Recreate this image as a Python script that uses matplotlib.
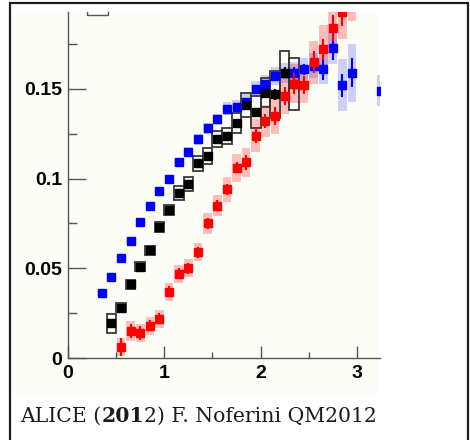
import matplotlib
matplotlib.use("Agg")
import matplotlib.pyplot as plt
from matplotlib.patches import Rectangle

# blue series
pt_blue = [0.35, 0.45, 0.55, 0.65, 0.75, 0.85, 0.95, 1.05, 1.15, 1.25, 1.35, 1.45, 1.55, 1.65,
           1.75, 1.85, 1.95, 2.05, 2.15, 2.25, 2.35, 2.45, 2.55, 2.65, 2.75, 2.85, 2.95, 3.25]
v_blue = [0.036, 0.045, 0.056, 0.065, 0.076, 0.085, 0.093, 0.100, 0.109, 0.115, 0.122, 0.128, 0.133, 0.139,
          0.140, 0.143, 0.150, 0.153, 0.157, 0.159, 0.159, 0.161, 0.163, 0.161, 0.173, 0.152, 0.159, 0.149]
stat_blue = [0.0005, 0.0005, 0.0005, 0.0005, 0.0005, 0.0005, 0.0005, 0.0005, 0.0005, 0.0008, 0.0008, 0.001, 0.001, 0.001,
             0.0012, 0.0015, 0.0015, 0.002, 0.002, 0.0025, 0.003, 0.003, 0.004, 0.006, 0.007, 0.0065, 0.008, 0.006]
sys_blue = [0.0015, 0.0015, 0.0015, 0.0015, 0.002, 0.002, 0.002, 0.002, 0.0025, 0.0025, 0.003, 0.003, 0.003, 0.0035,
            0.004, 0.004, 0.0045, 0.005, 0.005, 0.0055, 0.006, 0.006, 0.007, 0.008, 0.009, 0.0145, 0.016, 0.0085]

# black series
pt_black = [0.45, 0.55, 0.65, 0.75, 0.85, 0.95, 1.05, 1.15, 1.25, 1.35, 1.45, 1.55, 1.65, 1.75,
            1.85, 1.95, 2.05, 2.15, 2.25, 2.35]
v_black = [0.0195, 0.028, 0.041, 0.051, 0.060, 0.073, 0.0825, 0.092, 0.097, 0.1085, 0.1125, 0.122, 0.124, 0.131,
           0.141, 0.137, 0.148, 0.147, 0.159, 0.153]
stat_black = [0.001, 0.001, 0.001, 0.001, 0.001, 0.001, 0.001, 0.001, 0.001, 0.001, 0.001, 0.001, 0.0012, 0.0015,
              0.0015, 0.002, 0.002, 0.003, 0.003, 0.003]
sys_black = [0.0053, 0.0025, 0.0025, 0.0025, 0.0025, 0.003, 0.003, 0.004, 0.004, 0.004, 0.0045, 0.0045, 0.0045, 0.0056,
             0.0067, 0.009, 0.008, 0.013, 0.012, 0.0145]

# red series
pt_red = [0.55, 0.65, 0.75, 0.85, 0.95, 1.05, 1.15, 1.25, 1.35, 1.45, 1.55, 1.65, 1.75, 1.85,
          1.95, 2.05, 2.15, 2.25, 2.35, 2.45, 2.55, 2.65, 2.75, 2.85, 2.95]
v_red = [0.006, 0.015, 0.014, 0.018, 0.022, 0.037, 0.047, 0.050, 0.059, 0.075, 0.085, 0.094, 0.106, 0.109,
         0.124, 0.132, 0.135, 0.146, 0.153, 0.152, 0.165, 0.172, 0.184, 0.193, 0.203]
stat_red = [0.005, 0.004, 0.004, 0.003, 0.003, 0.003, 0.003, 0.003, 0.003, 0.003, 0.003, 0.003, 0.003, 0.004,
            0.004, 0.004, 0.005, 0.005, 0.006, 0.005, 0.006, 0.006, 0.007, 0.008, 0.008]
sys_red = [0.005, 0.0055, 0.005, 0.005, 0.005, 0.005, 0.005, 0.005, 0.005, 0.006, 0.006, 0.007, 0.008, 0.008,
           0.009, 0.009, 0.010, 0.010, 0.011, 0.010, 0.012, 0.0135, 0.014, 0.015, 0.015]

x_ticks = [0, 1, 2, 3]
x_ticklabels = ["0", "1", "2", "3"]
y_ticks = [0, 0.05, 0.1, 0.15]
y_ticklabels = ["0", "0.05", "0.1", "0.15"]
caption_parts = [("ALICE (", "normal"), ("201", "bold"), ("2) F. Noferini QM2012", "normal")]

fig = plt.figure(figsize=(4.7, 4.4), dpi=100)
fig.patch.set_facecolor("white")

# off-white picture area behind the axes, and the outer frame
fig.patches.append(Rectangle((12 / 470, 45 / 440), 366 / 470, 383 / 440, transform=fig.transFigure,
                             facecolor="#fdfdf7", edgecolor="none", zorder=-5))
fig.patches.append(Rectangle((10 / 470, -0.02), 458 / 470, (437 / 440) + 0.02, transform=fig.transFigure,
                             fill=False, edgecolor="#1c1c1c", linewidth=1.6, zorder=5))

ax = fig.add_axes([68 / 470, 82 / 440, 312 / 470, 346 / 440])
ax.set_facecolor("none")

# systematic bands / boxes
ax.bar(pt_red, [2 * s for s in sys_red], bottom=[v - s for v, s in zip(v_red, sys_red)],
       width=0.09, color="red", alpha=0.25, linewidth=0, zorder=1)
ax.bar(pt_blue, [2 * s for s in sys_blue], bottom=[v - s for v, s in zip(v_blue, sys_blue)],
       width=0.09, color="#2030ff", alpha=0.22, linewidth=0, zorder=1)
ax.bar(pt_black, [2 * s for s in sys_black], bottom=[v - s for v, s in zip(v_black, sys_black)],
       width=0.1, fill=False, edgecolor="#383838", linewidth=1.3, zorder=2)

# points with statistical errors
ax.errorbar(pt_blue, v_blue, yerr=stat_blue, fmt="s", color="#0000ff", ms=5.5, elinewidth=1.5,
            capsize=0, zorder=3)
ax.errorbar(pt_black, v_black, yerr=stat_black, fmt="s", color="black", ms=5.5, elinewidth=1.5,
            capsize=0, zorder=4)
ax.errorbar(pt_red, v_red, yerr=stat_red, fmt="s", color="#ff0000", ms=5.5, elinewidth=1.5,
            capsize=0, zorder=5)

# piece of the legend box cut by the top of the picture
ax.add_patch(Rectangle((0.197, 0.1915), 0.218, 0.02, fill=False, edgecolor="#555555", linewidth=1.0))

ax.set_xlim(0, 3.24)
ax.set_ylim(0, 0.1929)

ax.spines["top"].set_visible(False)
ax.spines["right"].set_visible(False)
for s in ["left", "bottom"]:
    ax.spines[s].set_color("#555555")
    ax.spines[s].set_linewidth(1.0)

ax.set_xticks(x_ticks)
ax.set_xticklabels(x_ticklabels)
ax.set_yticks(y_ticks)
ax.set_yticklabels(y_ticklabels)
ax.set_xticks([0.5, 1.5, 2.5], minor=True)
ax.set_yticks([0.025, 0.075, 0.125, 0.175], minor=True)
ax.tick_params(axis="x", which="major", direction="in", length=9, width=1, color="#555555", pad=5)
ax.tick_params(axis="x", which="minor", direction="in", length=4.5, width=1, color="#555555")
ax.tick_params(axis="y", which="major", direction="in", length=13, width=1, color="#555555", pad=4)
ax.tick_params(axis="y", which="minor", direction="in", length=6.5, width=1, color="#555555")
for lab in ax.get_xticklabels() + ax.get_yticklabels():
    lab.set_fontfamily("Liberation Sans")
    lab.set_fontweight("bold")
    lab.set_fontsize(14)

# caption, "201" in bold
prev = fig.text(20 / 470, 14 / 440, caption_parts[0][0], family="DejaVu Serif", size=14.7,
                weight=caption_parts[0][1], va="bottom", color="#1a1a1a")
for txt, w in caption_parts[1:]:
    prev = ax.annotate(txt, xy=(1, 0), xycoords=prev, va="bottom", ha="left", family="DejaVu Serif",
                       size=14.7, weight=w, color="#1a1a1a", annotation_clip=False)

plt.savefig("out.png", dpi=100)
